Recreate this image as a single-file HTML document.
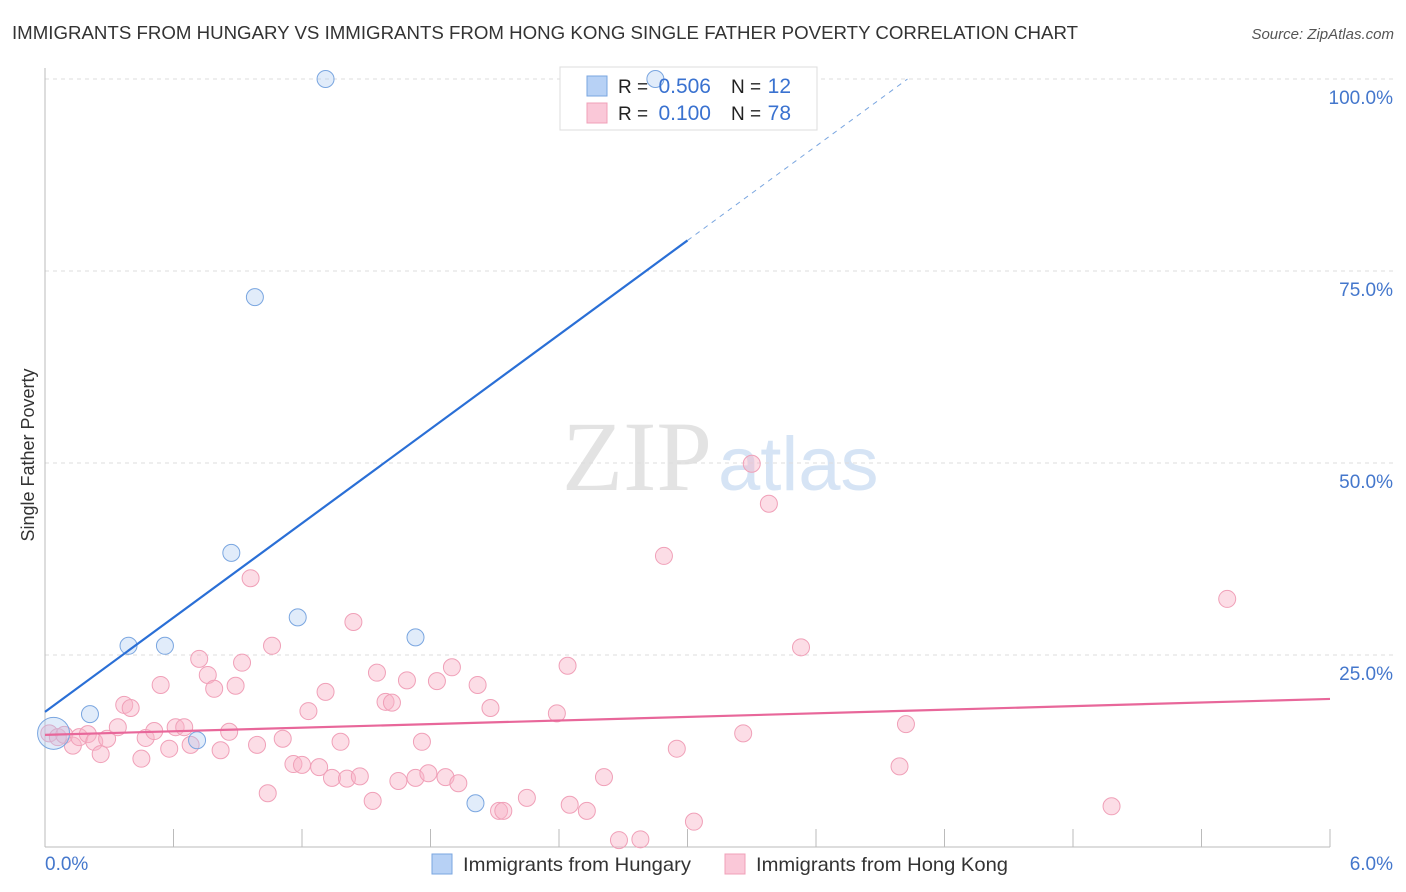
<!DOCTYPE html>
<html><head><meta charset="utf-8"><style>
body{margin:0;background:#fff;font-family:"Liberation Sans",sans-serif;}
svg{display:block}
</style></head><body>
<svg id="c" width="1406" height="892" xmlns="http://www.w3.org/2000/svg"></svg>
<script>
const xTicks=[0,0.6,1.2,1.8,2.4,3.0,3.6,4.2,4.8,5.4,6.0];
const yTicks=[25,50,75,100];
const yTickLabels=["25.0%","50.0%","75.0%","100.0%"];
const xEndLabels=["0.0%","6.0%"];
const hungaryX=[0.04,0.21,0.39,0.56,0.71,0.87,0.98,1.18,1.31,1.73,2.01,2.85];
const hungaryY=[14.8,17.3,26.2,26.2,13.9,38.3,71.6,29.9,100,27.3,5.7,100];
const hkX=[0.02,0.06,0.09,0.13,0.16,0.20,0.23,0.26,0.29,0.34,0.37,0.40,0.45,0.47,0.51,0.54,0.58,0.61,0.65,0.68,0.72,0.76,0.79,0.82,0.86,0.89,0.92,0.96,0.99,1.04,1.06,1.11,1.16,1.20,1.23,1.28,1.31,1.34,1.38,1.41,1.44,1.47,1.53,1.55,1.59,1.62,1.65,1.69,1.73,1.76,1.79,1.83,1.87,1.90,1.93,2.02,2.08,2.12,2.14,2.25,2.39,2.44,2.45,2.53,2.61,2.68,2.78,2.89,2.95,3.03,3.26,3.30,3.38,3.53,3.99,4.02,4.98,5.52];
const hkY=[14.8,14.3,14.6,13.2,14.3,14.7,13.7,12.1,14.1,15.6,18.5,18.1,11.5,14.2,15.1,21.1,12.8,15.6,15.6,13.3,24.5,22.4,20.6,12.6,15.0,21.0,24.0,35.0,13.3,7.0,26.2,14.1,10.8,10.7,17.7,10.4,20.2,9.0,13.7,8.9,29.3,9.2,6.0,22.7,18.9,18.8,8.6,21.7,9.0,13.7,9.6,21.6,9.1,23.4,8.3,21.1,18.1,4.7,4.7,6.4,17.4,23.6,5.5,4.7,9.1,0.9,1.0,37.9,12.8,3.3,14.8,49.9,44.7,26.0,10.5,16.0,5.3,32.3];
const blueTrend=[17.6,20.46]; // intercept, slope
const pinkTrend=[14.6,0.78];
const legendR=["0.506","0.100"], legendN=["12","78"];

const NS="http://www.w3.org/2000/svg", svg=document.getElementById('c');
const X=v=>45+v/6*1285, Y=v=>847-v/100*768;
function el(t,a,txt){const e=document.createElementNS(NS,t);for(const k in a)e.setAttribute(k,a[k]);if(txt!=null)e.textContent=txt;svg.appendChild(e);return e;}
let e;
e=el('text',{x:12,y:39,'font-size':18.5,fill:'#333',textLength:1066,lengthAdjust:'spacingAndGlyphs'},'IMMIGRANTS FROM HUNGARY VS IMMIGRANTS FROM HONG KONG SINGLE FATHER POVERTY CORRELATION CHART');

e=el('text',{x:1394,y:39,'font-size':15,fill:'#555','font-style':'italic','text-anchor':'end'},'Source: ZipAtlas.com');

e=el('text',{x:712,y:490,'font-size':100,fill:'#e3e3e3','text-anchor':'end','font-family':'Liberation Serif,serif'},'ZIP');

e=el('text',{x:718,y:490,'font-size':76,fill:'#d6e4f5'},'atlas');

yTicks.forEach((t,i)=>{
 e=el('line',{x1:45,x2:1394,y1:Y(t),y2:Y(t),stroke:'#ddd','stroke-dasharray':'4,4'});
 
 e=el('text',{x:1393,y:Y(t)+25,'font-size':19,fill:'#4477cc','text-anchor':'end'},yTickLabels[i]);
 
});
e=el('line',{x1:45,x2:45,y1:68,y2:847,stroke:'#bbb'});
e=el('line',{x1:45,x2:1330,y1:847,y2:847,stroke:'#bbb'});
xTicks.forEach(t=>{e=el('line',{x1:X(t),x2:X(t),y1:829,y2:847,stroke:'#bbb'});});
e=el('text',{x:45,y:870,'font-size':19,fill:'#4477cc'},xEndLabels[0]);
e=el('text',{x:1393,y:870,'font-size':19,fill:'#4477cc','text-anchor':'end'},xEndLabels[1]);
e=el('text',{x:34,y:455,'font-size':18,fill:'#333','text-anchor':'middle',transform:'rotate(-90 34 455)'},'Single Father Poverty');

e=el('rect',{x:560,y:67,width:257,height:63,fill:'#fff',stroke:'#ddd'});

hkX.forEach((v,i)=>{e=el('circle',{cx:X(v),cy:Y(hkY[i]),r:8.5,fill:'rgba(248,180,200,0.45)',stroke:'#f0a0b8','stroke-width':1});
 });
hungaryX.forEach((v,i)=>{e=el('circle',{cx:X(v),cy:Y(hungaryY[i]),r:i==0?16:8.5,fill:'rgba(170,200,240,0.35)',stroke:'#7aa6e0','stroke-width':1});
 });
const bx=(100-blueTrend[0])/blueTrend[1];
e=el('line',{x1:X(0),y1:Y(blueTrend[0]),x2:X(3),y2:Y(blueTrend[0]+3*blueTrend[1]),stroke:'#2a6fd6','stroke-width':2.2});

e=el('line',{x1:X(3),y1:Y(blueTrend[0]+3*blueTrend[1]),x2:X(bx),y2:Y(100),stroke:'#7aa6e0','stroke-width':1,'stroke-dasharray':'5,5'});

e=el('line',{x1:X(0),y1:Y(pinkTrend[0]),x2:X(6),y2:Y(pinkTrend[0]+6*pinkTrend[1]),stroke:'#e8679a','stroke-width':2.2});

[['#b7d1f5','#7aa6e0'],['#fac8d8','#f0a0b8']].forEach((c,i)=>{
 const y=76+i*27;
 e=el('rect',{x:587,y:y,width:20,height:20,fill:c[0],stroke:c[1]});
 e=el('text',{x:618,y:y+17,'font-size':19,fill:'#222'},'R = ');
 e=el('text',{x:711,y:y+17,'font-size':21,fill:'#3a72d0','text-anchor':'end'},legendR[i]);
 e=el('text',{x:731,y:y+17,'font-size':19,fill:'#222'},'N = ');
 e=el('text',{x:791,y:y+17,'font-size':21,fill:'#3a72d0','text-anchor':'end'},legendN[i]);
});
e=el('rect',{x:432,y:854,width:20,height:20,fill:'#b7d1f5',stroke:'#7aa6e0'});
e=el('text',{x:463,y:871,'font-size':19.5,fill:'#333',textLength:228,lengthAdjust:'spacingAndGlyphs'},'Immigrants from Hungary');
e=el('rect',{x:725,y:854,width:20,height:20,fill:'#fac8d8',stroke:'#f0a0b8'});
e=el('text',{x:756,y:871,'font-size':19.5,fill:'#333',textLength:252,lengthAdjust:'spacingAndGlyphs'},'Immigrants from Hong Kong');
</script>
</body></html>
